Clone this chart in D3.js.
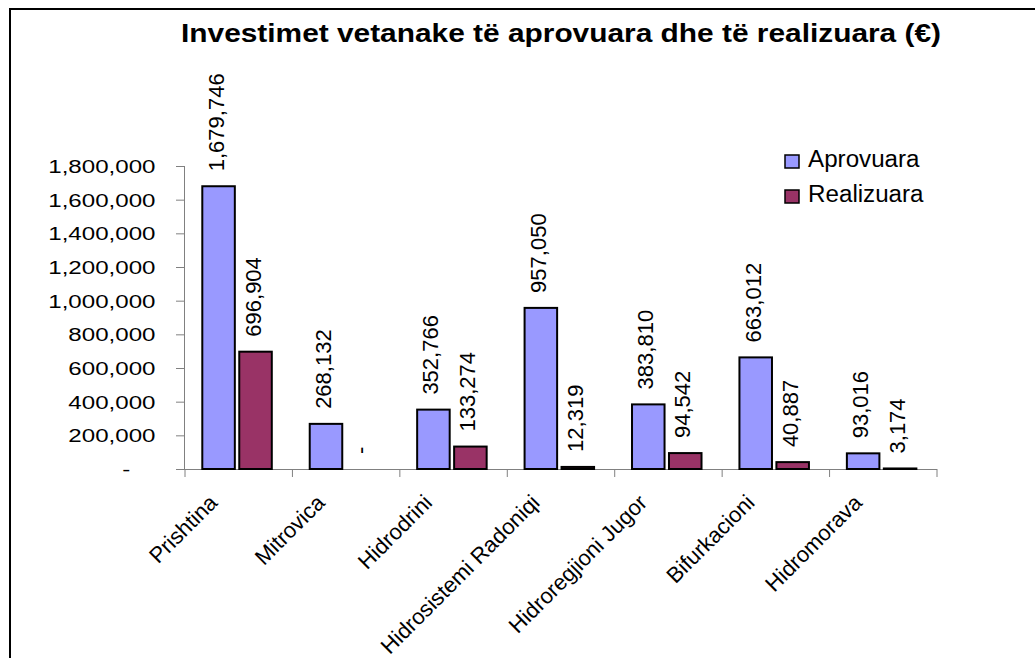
<!DOCTYPE html>
<html>
<head>
<meta charset="utf-8">
<script src="https://cdn.jsdelivr.net/npm/d3@7"></script>
<style>
  body { margin: 0; background: #fff; }
  text { font-family: "Liberation Sans", Arial, sans-serif; fill: #000; }
</style>
</head>
<body>
<div class="chart"></div>
<script>
// Data
var categories = ["Prishtina", "Mitrovica", "Hidrodrini", "Hidrosistemi Radoniqi",
  "Hidroregjioni Jugor", "Bifurkacioni", "Hidromorava"];
var aprovuara = [1679746, 268132, 352766, 957050, 383810, 663012, 93016];
var realizuara = [696904, 0, 133274, 12319, 94542, 40887, 3174];
var seriesNames = ["Aprovuara", "Realizuara"];
var seriesColors = ["#9999FF", "#993366"];
var yTicks = [0, 200000, 400000, 600000, 800000, 1000000, 1200000, 1400000, 1600000, 1800000];
var titleText = "Investimet vetanake të aprovuara dhe të realizuara (€)";

var svgWidth = 1035;
var svgHeight = 658;

// plot area (axis positions)
var plot = { left: 185, right: 937, top: 166, bottom: 469 };

var svg = d3.select(".chart")
  .append("svg")
  .attr("width", svgWidth)
  .attr("height", svgHeight);

// outer frame, only left and top edges visible in the picture
svg.append("rect")
  .attr("x", 10)
  .attr("y", 9)
  .attr("width", svgWidth + 20)
  .attr("height", svgHeight + 20)
  .attr("fill", "none")
  .attr("stroke", "#000")
  .attr("stroke-width", 2);

// build table rows
var rows = categories.map(function(c, i) {
  return { cat: c, values: [aprovuara[i], realizuara[i]] };
});

// Step 1: scales
var x0 = d3.scaleBand()
  .domain(categories)
  .range([plot.left, plot.right])
  .padding(0);

var x1 = d3.scaleBand()
  .domain(seriesNames)
  .range([17.3, 86.8])
  .paddingInner(0.12);

var y = d3.scaleLinear()
  .domain([0, 1800000])
  .range([plot.bottom, plot.top]);

// Step 2: axes
var fmt = d3.format(",");
var leftAxis = d3.axisLeft(y)
  .tickValues(yTicks)
  .tickSize(9)
  .tickFormat(function(d) { return d === 0 ? "-" : fmt(d); });

var yAxisG = svg.append("g")
  .attr("transform", `translate(${plot.left}, 0)`)
  .call(leftAxis);

yAxisG.select(".domain").attr("stroke", "#808080").attr("d", `M-0.5,${plot.top}V${plot.bottom}`);
yAxisG.selectAll(".tick line").attr("stroke", "#808080");
yAxisG.selectAll(".tick text")
  .attr("x", function(d) { return d === 0 ? -43 : -23.2; })
  .attr("dy", "0.35em")
  .attr("transform", "scale(1.27,1)")
  .style("font-size", "19px")
  .style("font-family", "'Liberation Sans', Arial, sans-serif");

var bottomAxis = d3.axisBottom(x0)
  .tickSize(0)
  .tickFormat("");

var xAxisG = svg.append("g")
  .attr("transform", `translate(0, ${plot.bottom})`)
  .call(bottomAxis);
xAxisG.select(".domain").attr("stroke", "#808080").attr("d", `M${plot.left},0.5H${plot.right}`);

// category boundary ticks
var bounds = categories.map(function(c) { return x0(c); }).concat([plot.right]);
svg.append("g").selectAll("line")
  .data(bounds)
  .enter()
  .append("line")
  .attr("x1", d => d)
  .attr("x2", d => d)
  .attr("y1", plot.bottom)
  .attr("y2", plot.bottom + 8)
  .attr("stroke", "#808080");

// category labels at -45 degrees
svg.append("g").selectAll("text")
  .data(categories)
  .enter()
  .append("text")
  .attr("text-anchor", "end")
  .attr("transform", d => `translate(${x0(d) + x0.bandwidth() / 2 - 20}, 504) rotate(-45)`)
  .style("font-size", "22px")
  .text(d => d);

// Step 3: bars
var groups = svg.append("g").selectAll("g")
  .data(rows)
  .enter()
  .append("g")
  .attr("transform", d => `translate(${x0(d.cat)}, 0)`);

groups.selectAll("rect")
  .data(d => d.values.map(function(v, j) { return { name: seriesNames[j], value: v, color: seriesColors[j] }; }))
  .enter()
  .append("rect")
  .filter(d => d.value > 0)
  .attr("x", d => x1(d.name))
  .attr("y", d => y(d.value))
  .attr("width", x1.bandwidth())
  .attr("height", d => y(0) - y(d.value))
  .attr("fill", d => d.color)
  .attr("stroke", "#000")
  .attr("stroke-width", 2);

// value labels, rotated
groups.selectAll("text")
  .data(d => d.values.map(function(v, j) { return { name: seriesNames[j], value: v }; }))
  .enter()
  .append("text")
  .attr("text-anchor", "start")
  .attr("transform", d => `translate(${x1(d.name) + x1.bandwidth() / 2 + 5}, ${y(d.value) - 15}) rotate(-90)`)
  .style("font-size", "22px")
  .text(d => d.value === 0 ? "-" : fmt(d.value));

// Step 4: title
svg.append("text")
  .attr("x", 561)
  .attr("y", 42)
  .attr("text-anchor", "middle")
  .attr("textLength", 760)
  .attr("lengthAdjust", "spacingAndGlyphs")
  .style("font-size", "25.5px")
  .style("font-weight", "bold")
  .text(titleText);

// Step 5: legend
var legend = svg.append("g").selectAll("g")
  .data(seriesNames)
  .enter()
  .append("g")
  .attr("transform", (d, i) => `translate(785, ${155 + i * 35})`);

legend.append("rect")
  .attr("width", 14)
  .attr("height", 13)
  .attr("fill", (d, i) => seriesColors[i])
  .attr("stroke", "#000")
  .attr("stroke-width", 1.5);

legend.append("text")
  .attr("x", 22)
  .attr("y", 12)
  .attr("transform", "scale(1.05,1)")
  .style("font-size", "23px")
  .text(d => d);
</script>
</body>
</html>
